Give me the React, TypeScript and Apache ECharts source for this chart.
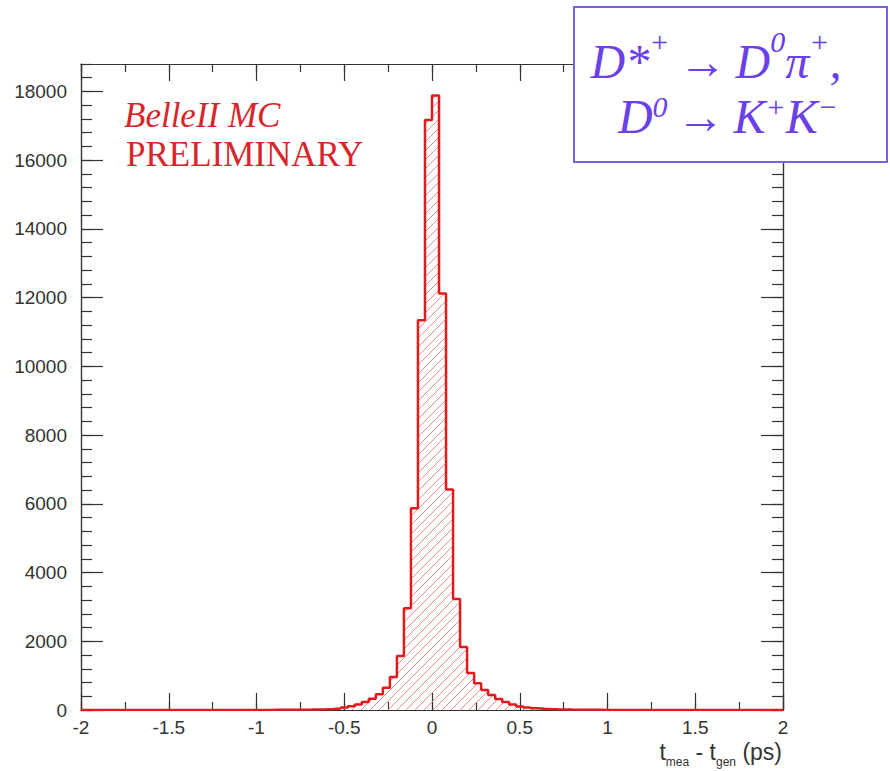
import React, { useEffect, useRef } from "react";
import * as echarts from "echarts";

// Histogram binning (ROOT-style: 100 bins over [-2, 2])
const X_MIN = -2;
const X_MAX = 2;
const BIN_WIDTH = 0.04;

// Counts per bin, bin k covers [X_MIN + k*BIN_WIDTH, X_MIN + (k+1)*BIN_WIDTH)
const counts: number[] = [
  // k = 0..24
  0, 0, 0, 0, 0, 0, 0, 0, 0, 0, 0, 0, 0, 0, 0, 0, 0, 0, 0, 0, 0, 0, 0, 0, 0,
  // k = 25..29
  2, 3, 4, 5, 6,
  // k = 30..49
  8, 10, 13, 17, 22, 30, 42, 75, 110, 160, 230, 330, 460, 650, 960, 1570, 2960, 5870, 11340, 17170,
  // k = 50..69
  17880, 12120, 6420, 3230, 1830, 1080, 780, 580, 440, 320, 230, 160, 105, 70, 48, 35, 27, 21, 16, 12,
  // k = 70..79
  9, 7, 5, 4, 3, 2, 2, 1, 1, 1,
  // k = 80..99
  0, 0, 0, 0, 0, 0, 0, 0, 0, 0, 0, 0, 0, 0, 0, 0, 0, 0, 0, 0,
];

const Y_MAX = 18800;
const Y_MAJOR = 2000;
const Y_MINOR = 400;
const X_MAJOR = 0.5;
const X_MINOR = 0.25;

const labelTexts = {
  mc: "BelleII MC",
  prelim: "PRELIMINARY",
};

const AXIS_COLOR = "#333";
const SANS = '"Liberation Sans", Arial, sans-serif';
const SERIF = '"Liberation Serif", "DejaVu Serif", serif';
const RED = "#e31a1c";
const PURPLE = "#6a40e8";

export default function App() {
  const ref = useRef<HTMLDivElement>(null);

  useEffect(() => {
    if (!ref.current) return;
    const chart = echarts.init(ref.current, null, { renderer: "svg" });

    // hatch tile
    const tile = document.createElement("canvas");
    tile.width = 9;
    tile.height = 9;
    const ctx = tile.getContext("2d")!;
    ctx.strokeStyle = "#f08a8a";
    ctx.lineWidth = 1;
    ctx.beginPath();
    ctx.moveTo(-1, 10);
    ctx.lineTo(10, -1);
    ctx.moveTo(-1, 1);
    ctx.lineTo(1, -1);
    ctx.moveTo(8, 10);
    ctx.lineTo(10, 8);
    ctx.stroke();

    const stepData: number[][] = counts.map((c, k) => [
      +(X_MIN + k * BIN_WIDTH).toFixed(2),
      c,
    ]);
    stepData.push([X_MAX, counts[counts.length - 1]]);

    const xAxisBase = (pos: "bottom" | "top", interval: number, tickLen: number, showLabel: boolean) => ({
      type: "value" as const,
      position: pos,
      min: X_MIN,
      max: X_MAX,
      interval,
      axisLine: { show: true, onZero: false, lineStyle: { color: AXIS_COLOR, width: 1.2 } },
      axisTick: { show: true, inside: true, length: tickLen, lineStyle: { color: AXIS_COLOR, width: 1.2 } },
      axisLabel: {
        show: showLabel,
        color: "#333",
        fontFamily: SANS,
        fontSize: 19,
        margin: 8,
        formatter: (v: number) => String(v),
      },
      splitLine: { show: false },
    });

    const yAxisBase = (pos: "left" | "right", interval: number, tickLen: number, showLabel: boolean) => ({
      type: "value" as const,
      position: pos,
      min: 0,
      max: Y_MAX,
      interval,
      axisLine: { show: true, onZero: false, lineStyle: { color: AXIS_COLOR, width: 1.2 } },
      axisTick: { show: true, inside: true, length: tickLen, lineStyle: { color: AXIS_COLOR, width: 1.2 } },
      axisLabel: {
        show: showLabel,
        showMaxLabel: false,
        color: "#333",
        fontFamily: SANS,
        fontSize: 19,
        margin: 14,
        formatter: (v: number) => String(v),
      },
      splitLine: { show: false },
    });

    const supStyle1 = {
      fontSize: 30,
      fontStyle: "italic",
      fontFamily: SERIF,
      lineHeight: 8,
      height: 8,
      verticalAlign: "top",
      fill: PURPLE,
    };
    const supStyle2 = { ...supStyle1, lineHeight: 28, height: 28 };
    const baseStyle = { fontSize: 48, fontStyle: "italic", fontFamily: SERIF, lineHeight: 48, fill: PURPLE };
    const arrowStyle = { fontSize: 48, fontFamily: SERIF, lineHeight: 48, fill: PURPLE, padding: [0, 9, 0, 9] };

    chart.setOption({
      animation: false,
      backgroundColor: "#fff",
      grid: { left: 81, right: 107, top: 64, bottom: 61, containLabel: false },
      xAxis: [
        xAxisBase("bottom", X_MAJOR, 17, true),
        xAxisBase("bottom", X_MINOR, 8, false),
        xAxisBase("top", X_MAJOR, 17, false),
        xAxisBase("top", X_MINOR, 8, false),
      ],
      yAxis: [
        yAxisBase("left", Y_MAJOR, 22, true),
        yAxisBase("left", Y_MINOR, 11, false),
        yAxisBase("right", Y_MAJOR, 22, false),
        yAxisBase("right", Y_MINOR, 11, false),
      ],
      series: [
        {
          type: "line",
          xAxisIndex: 0,
          yAxisIndex: 0,
          step: "end",
          symbol: "none",
          data: stepData,
          lineStyle: { color: RED, width: 2.5 },
          areaStyle: {
            color: { image: tile, repeat: "repeat", imageWidth: 9, imageHeight: 9 } as any,
            opacity: 1,
          },
          z: 5,
        },
      ],
      graphic: {
        elements: [
          {
            type: "text",
            x: 124,
            y: 115,
            z: 50,
            style: {
              text: labelTexts.mc,
              fill: "#d7262b",
              font: `italic 35px ${SERIF}`,
              verticalAlign: "middle",
            },
          },
          {
            type: "text",
            x: 126,
            y: 154,
            z: 50,
            style: {
              text: labelTexts.prelim,
              fill: "#d7262b",
              font: `35px ${SERIF}`,
              verticalAlign: "middle",
            },
          },
          {
            type: "rect",
            z: 60,
            shape: { x: 574, y: 7, width: 313, height: 155 },
            style: { fill: "#fff", stroke: "#7d5ee8", lineWidth: 2 },
          },
          {
            type: "text",
            x: 716,
            y: 61,
            z: 61,
            style: {
              text: "{b|D}{b|*}{s|+}{a|→}{b|D}{s|0}{b|π}{s|+}{b|,}",
              align: "center",
              verticalAlign: "middle",
              fill: PURPLE,
              rich: { b: baseStyle, a: arrowStyle, s: supStyle1 },
            },
          },
          {
            type: "text",
            x: 728,
            y: 116,
            z: 61,
            style: {
              text: "{b|D}{s|0}{a|→}{b|K}{s|+}{b|K}{s|−}",
              align: "center",
              verticalAlign: "middle",
              fill: PURPLE,
              rich: { b: baseStyle, a: arrowStyle, s: supStyle2 },
            },
          },
          {
            type: "text",
            x: 782,
            y: 752,
            z: 50,
            style: {
              text: "{n|t}{s|mea}{n| - t}{s|gen}{n| (ps)}",
              align: "right",
              verticalAlign: "middle",
              fill: "#333",
              rich: {
                n: { fontSize: 23, fontFamily: SANS, lineHeight: 26, fill: "#333" },
                s: { fontSize: 12, fontFamily: SANS, lineHeight: 6, height: 6, verticalAlign: "bottom", fill: "#333" },
              },
            },
          },
        ],
      },
    });

    return () => chart.dispose();
  }, []);

  return (
    <div
      ref={ref}
      style={{ position: "fixed", left: 0, top: 0, width: 890, height: 771, background: "#fff" }}
    />
  );
}
